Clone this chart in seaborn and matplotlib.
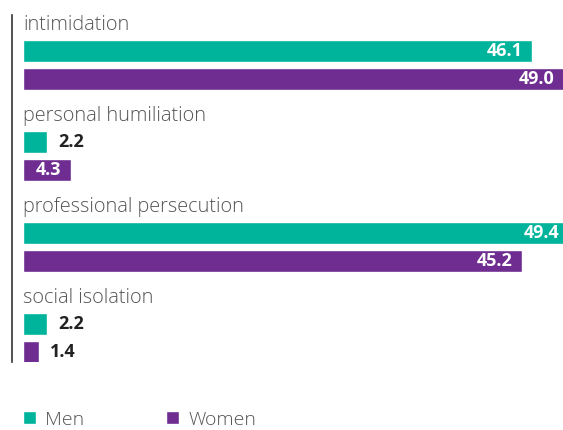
import matplotlib
matplotlib.use("Agg")
import matplotlib.pyplot as plt
import seaborn as sns
import pandas as pd

# === Data ===
categories = ["intimidation", "personal humiliation", "professional persecution", "social isolation"]
men = [46.1, 2.2, 49.4, 2.2]
women = [49.0, 4.3, 45.2, 1.4]
groups = ["Men", "Women"]
colors = {"Men": "#00B39B", "Women": "#6F2C91"}

df = pd.DataFrame({
    "category": categories * 2,
    "value": men + women,
    "group": ["Men"] * len(categories) + ["Women"] * len(categories),
})

sns.set_style("white")
plt.rcParams["font.family"] = ["Open Sans", "DejaVu Sans"]

fig = plt.figure(figsize=(5.63, 4.30), dpi=100)
ax = fig.add_axes([12 / 563, 1 - 362 / 430, 1 - 12 / 563, (362 - 15) / 430])

sns.barplot(data=df, y="category", x="value", hue="group", hue_order=groups,
            palette=colors, orient="h", width=0.615, gap=0.21, ax=ax,
            saturation=1, errorbar=None)

ax.set_xlim(-1.0, 48.9)
ax.set_ylim(3 + 24 / 91, -50 / 91)
ax.set_xlabel("")
ax.set_ylabel("")
ax.set_xticks([])
ax.set_yticks([])
for s in ["top", "right", "bottom"]:
    ax.spines[s].set_visible(False)
ax.spines["left"].set_color("#333333")
ax.spines["left"].set_linewidth(1.2)

# category labels above each group
for i, cat in enumerate(categories):
    ax.text(0, i - 0.44, cat, ha="left", va="center", fontsize=14.3,
            color="#555555", fontweight="light")

# value labels
for container, vals in zip(ax.containers, [men, women]):
    for bar, v in zip(container, vals):
        y = bar.get_y() + bar.get_height() / 2
        end = bar.get_width()
        if v >= 4:
            ax.text(end - 0.85, y, f"{v:.1f}", ha="right", va="center",
                    fontsize=13, fontweight="bold", color="white")
        else:
            ax.text(end + 1.0, y, f"{v:.1f}", ha="left", va="center",
                    fontsize=13, fontweight="bold", color="#222222")

sns.move_legend(ax, loc="center left", bbox_to_anchor=(0.02, -0.166), ncol=2,
                frameon=False, title=None, handlelength=0.65, handleheight=0.65,
                handletextpad=0.5, columnspacing=4.2, fontsize=14,
                borderpad=0, borderaxespad=0)
for t in ax.get_legend().get_texts():
    t.set_color("#555555")
    t.set_fontweight("light")

fig.savefig("out.png", dpi=100)
